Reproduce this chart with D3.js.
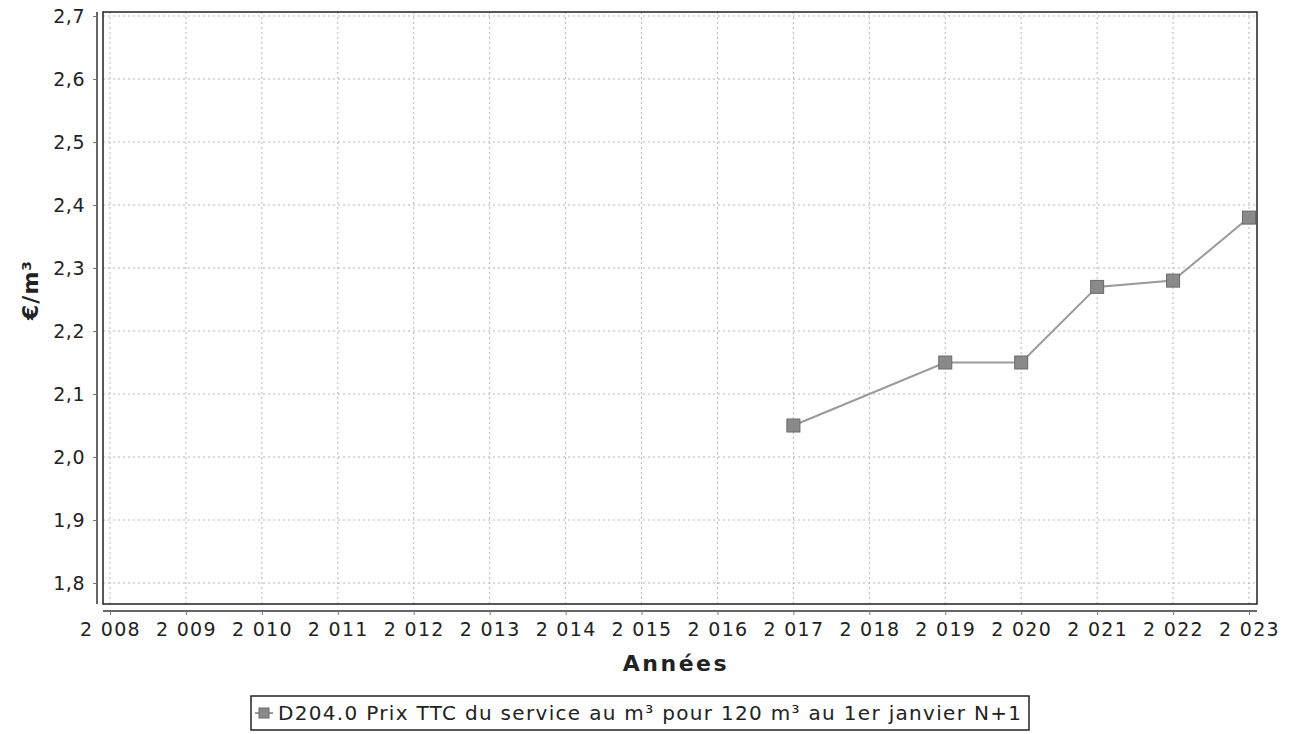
<!DOCTYPE html>
<html>
<head>
<meta charset="utf-8">
<script src="https://cdn.jsdelivr.net/npm/d3@7"></script>
<style>
  body { margin: 0; background: #fff; }
  text { font-family: "DejaVu Sans", sans-serif; fill: #222; }
</style>
</head>
<body>
<div id="chart"></div>
<script>
// data
var years = [2008, 2009, 2010, 2011, 2012, 2013, 2014, 2015, 2016, 2017, 2018, 2019, 2020, 2021, 2022, 2023];
var dataYears = [2017, 2019, 2020, 2021, 2022, 2023];
var prices = [2.05, 2.15, 2.15, 2.27, 2.28, 2.38];
var yTicks = [1.8, 1.9, 2.0, 2.1, 2.2, 2.3, 2.4, 2.5, 2.6, 2.7];
var seriesName = "D204.0 Prix TTC du service au m³ pour 120 m³ au 1er janvier N+1";

var width = 1296, height = 734;
var plot = {left: 103, right: 1257, top: 12, bottom: 604};

var fr = d3.formatLocale({decimal: ",", thousands: " ", grouping: [3], currency: ["", " €"]});
var fmtY = fr.format(".1f");
var fmtX = fr.format(",d");

var svg = d3.select("#chart").append("svg")
    .attr("width", width)
    .attr("height", height);

var x = d3.scaleLinear().domain([2008, 2023]).range([110, 1249]);
var y = d3.scaleLinear().domain([1.8, 2.7]).range([583, 16]);

// gridlines
var grid = svg.append("g");
grid.selectAll("line.v").data(years).enter().append("line")
    .attr("x1", d => x(d)).attr("x2", d => x(d))
    .attr("y1", plot.top).attr("y2", plot.bottom)
    .attr("stroke", "#b5b5b5").attr("stroke-width", 1)
    .attr("stroke-dasharray", "2,3");
grid.selectAll("line.h").data(yTicks).enter().append("line")
    .attr("x1", plot.left).attr("x2", plot.right)
    .attr("y1", d => y(d)).attr("y2", d => y(d))
    .attr("stroke", "#b5b5b5").attr("stroke-width", 1)
    .attr("stroke-dasharray", "2,3");

// plot border
svg.append("rect")
    .attr("x", plot.left).attr("y", plot.top)
    .attr("width", plot.right - plot.left).attr("height", plot.bottom - plot.top)
    .attr("fill", "none").attr("stroke", "#222").attr("stroke-width", 1.5);

// Y axis (offset a bit from the plot)
var yAxis = svg.append("g")
    .attr("transform", "translate(97,0)")
    .call(d3.axisLeft(y).tickValues(yTicks).tickFormat(fmtY).tickSize(4).tickPadding(8));
yAxis.select(".domain").attr("d", "M0," + plot.top + "V" + plot.bottom).attr("stroke", "#333").attr("stroke-width", 1.5);
yAxis.selectAll(".tick line").attr("stroke", "#777");
yAxis.selectAll("text").style("font-size", "19px").style("letter-spacing", "0.5px").attr("fill", "#333");

// X axis
var xAxis = svg.append("g")
    .attr("transform", "translate(0,611)")
    .call(d3.axisBottom(x).tickValues(years).tickFormat(fmtX).tickSize(4).tickPadding(8));
xAxis.select(".domain").attr("d", "M" + plot.left + ",0H" + plot.right).attr("stroke", "#333").attr("stroke-width", 1.5);
xAxis.selectAll(".tick line").attr("stroke", "#777");
xAxis.selectAll("text").style("font-size", "19px").style("letter-spacing", "1.3px").attr("fill", "#333");

// axis titles
svg.append("text")
    .attr("x", 676)
    .attr("y", 671)
    .attr("text-anchor", "middle")
    .style("font-size", "22px")
    .style("font-weight", "bold")
    .style("letter-spacing", "2.5px")
    .text("Années");

svg.append("text")
    .attr("transform", "translate(38," + 290 + ") rotate(-90)")
    .attr("text-anchor", "middle")
    .style("font-size", "22px")
    .style("font-weight", "bold")
    .style("letter-spacing", "1px")
    .text("€/m³");

// series line + square markers
var pts = dataYears.map(function(d, i) { return {year: d, value: prices[i]}; });
svg.append("path")
    .datum(pts)
    .attr("fill", "none")
    .attr("stroke", "#9a9a9a")
    .attr("stroke-width", 2)
    .attr("d", d3.line().x(d => x(d.year)).y(d => y(d.value)));

var sq = 13;
svg.selectAll("rect.pt").data(pts).enter().append("rect")
    .attr("class", "pt")
    .attr("x", d => x(d.year) - sq / 2)
    .attr("y", d => y(d.value) - sq / 2)
    .attr("width", sq).attr("height", sq)
    .attr("fill", "#8a8a8a")
    .attr("stroke", "#6a6a6a")
    .attr("stroke-width", 1);

// legend
var lg = svg.append("g");
lg.append("rect")
    .attr("x", 251).attr("y", 696)
    .attr("width", 778).attr("height", 34)
    .attr("fill", "#fff").attr("stroke", "#222").attr("stroke-width", 1.5);
lg.append("line")
    .attr("x1", 255).attr("x2", 273).attr("y1", 713).attr("y2", 713)
    .attr("stroke", "#9a9a9a").attr("stroke-width", 2);
lg.append("rect")
    .attr("x", 259).attr("y", 708).attr("width", 10).attr("height", 10)
    .attr("fill", "#8a8a8a").attr("stroke", "#6a6a6a");
lg.append("text")
    .attr("x", 278).attr("y", 720)
    .attr("textLength", 743)
    .attr("lengthAdjust", "spacing")
    .style("font-size", "20px")
    .text(seriesName);
</script>
</body>
</html>
